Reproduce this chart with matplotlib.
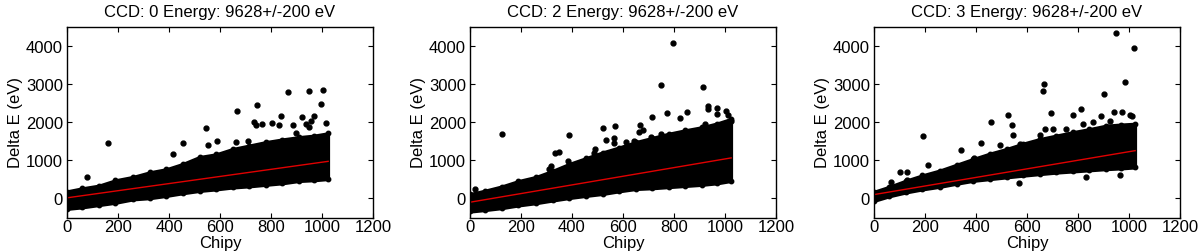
import matplotlib
matplotlib.use('Agg')
import matplotlib.pyplot as plt

plt.rcParams['font.family'] = ['Liberation Sans', 'DejaVu Sans']
plt.rcParams['font.size'] = 12

# CCD numbers shown in the panel titles
ccds = [0, 2, 3]

# chipy positions where the dense band edges were read
band_x = [0, 60, 125, 190, 260, 325, 390, 455, 520, 585, 650, 715, 780, 845, 910, 970, 1023]

# upper / lower edge of the dense black band (Delta E, eV)
band_hi_0 = [180, 260, 330, 470, 560, 680, 760, 900, 1080, 1150, 1290, 1380, 1470, 1540, 1600, 1640, 1700]
band_lo_0 = [-270, -230, -170, -110, -20, 10, 70, 140, 200, 240, 290, 320, 360, 400, 460, 480, 510]
band_hi_2 = [110, 200, 310, 450, 560, 720, 900, 1050, 1200, 1330, 1470, 1580, 1690, 1780, 1860, 1960, 2075]
band_lo_2 = [-340, -300, -250, -180, -120, -50, 15, 70, 120, 190, 250, 270, 300, 330, 360, 400, 460]
band_hi_3 = [170, 300, 460, 600, 730, 880, 1030, 1170, 1290, 1430, 1550, 1640, 1730, 1810, 1900, 1930, 1950]
band_lo_3 = [-60, 60, 160, 240, 310, 390, 465, 510, 555, 600, 640, 680, 710, 740, 770, 790, 815]

# isolated points outside the band
out_x_0 = [80, 160, 415, 455, 545, 552, 590, 661, 665, 709, 735, 740, 745, 765, 805, 830,
           840, 865, 885, 898, 922, 937, 950, 950, 957, 970, 995, 1005, 1015]
out_y_0 = [550, 1440, 1160, 1440, 1830, 1410, 1510, 1480, 2300, 1510, 2010, 1920, 2450, 1950, 1970, 1920,
           2150, 2790, 1920, 1700, 2140, 1950, 2820, 1880, 2030, 2150, 2480, 2850, 1970]
out_x_2 = [20, 125, 310, 318, 335, 348, 386, 390, 485, 491, 520, 535, 565, 565, 570, 610, 612,
           643, 650, 663, 665, 680, 710, 712, 750, 750, 772, 797, 825, 850, 915, 923, 935, 935,
           967, 970, 1003, 1010, 1025]
out_y_2 = [240, 1680, 770, 860, 1190, 1210, 990, 1660, 1180, 1295, 1840, 1530, 1580, 1440, 1900, 1340, 1480,
           1510, 1380, 1750, 1920, 1790, 1610, 2130, 1690, 2960, 2240, 4070, 2100, 2270, 2920, 1950, 2410, 2340,
           2210, 2370, 2280, 2190, 2030]
out_x_3 = [65, 101, 130, 131, 192, 212, 342, 392, 418, 457, 493, 522, 525, 540, 545, 568, 570,
           571, 650, 661, 665, 669, 695, 702, 751, 780, 812, 820, 833, 859, 889, 903, 925, 940,
           950, 965, 974, 985, 1003, 1013, 1020]
out_y_3 = [440, 700, 480, 680, 1630, 880, 1280, 1070, 1450, 2000, 1400, 1270, 2190, 1920, 1660, 1300, 400,
           1420, 1650, 2800, 2990, 1810, 2240, 1810, 1820, 2180, 2330, 1940, 550, 1990, 2150, 2730, 2020, 2270,
           4330, 620, 2260, 3040, 2180, 2160, 3930]

# linear fit drawn in red (end points)
fit_x = [0, 1024]
fit_y_0 = [15, 970]
fit_y_2 = [-100, 1060]
fit_y_3 = [100, 1250]

panels = [
    (band_hi_0, band_lo_0, out_x_0, out_y_0, fit_y_0),
    (band_hi_2, band_lo_2, out_x_2, out_y_2, fit_y_2),
    (band_hi_3, band_lo_3, out_x_3, out_y_3, fit_y_3),
]
lefts = [67, 470, 874]

fig = plt.figure(figsize=(12, 2.53), dpi=100)
for i, (hi, lo, ox, oy, fy) in enumerate(panels):
    ax = fig.add_axes([lefts[i] / 1200, 34.5 / 253, 306 / 1200, 191 / 253])
    ax.fill_between(band_x, lo, hi, color='black', lw=2.5, edgecolor='black')
    ax.plot(band_x, hi, 'o', color='black', ms=3.2)
    ax.plot(band_x, lo, 'o', color='black', ms=3.2)
    ax.plot(ox, oy, 'o', color='black', ms=3.5, mec='black')
    ax.plot(fit_x, fy, color='#e00000', lw=1)
    ax.set_xlim(0, 1200)
    ax.set_ylim(-500, 4500)
    ax.set_xticks([0, 200, 400, 600, 800, 1000, 1200])
    ax.set_yticks([0, 1000, 2000, 3000, 4000])
    ax.tick_params(direction='in', top=True, right=True, length=3.5, width=0.8)
    ax.tick_params(axis='x', pad=1)
    ax.tick_params(axis='y', pad=3)
    ax.set_xlabel('Chipy', labelpad=1)
    ax.set_ylabel('Delta E (eV)', labelpad=2)
    ax.set_title('CCD: %d Energy: 9628+/-200 eV' % ccds[i], fontsize=12, pad=7.5)
    for s in ax.spines.values():
        s.set_linewidth(1)

fig.savefig('out.png', dpi=100)
